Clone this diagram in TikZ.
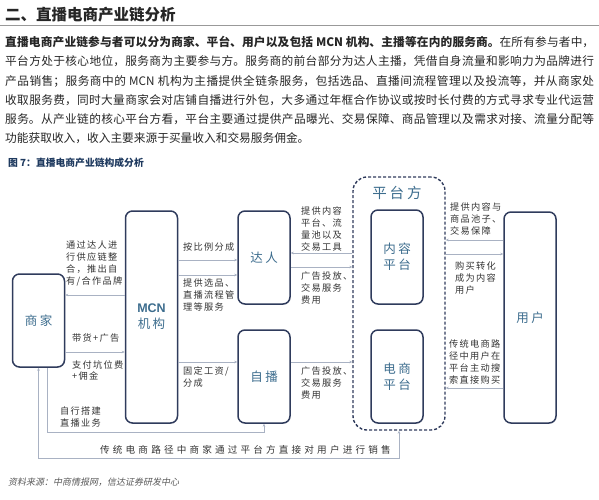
\documentclass[tikz,border=0pt]{standalone}
\usepackage{fontspec}
\setmainfont{Noto Sans CJK SC}
\newfontfamily\lblfont[LetterSpace=14]{Noto Sans CJK SC}
\newfontfamily\wideleftfont[LetterSpace=33]{Noto Sans CJK SC}
\newfontfamily\boxfont[LetterSpace=20]{Noto Sans CJK SC}
\newfontfamily\srcfont[FakeSlant=0.2]{Noto Sans CJK SC}
\newfontfamily\mcnfont{Liberation Sans}
\usetikzlibrary{arrows.meta, positioning, shadows}
\XeTeXlinebreaklocale "zh"
\XeTeXlinebreakskip=0pt plus 1pt
\definecolor{boxc}{HTML}{2F3B5C}
\definecolor{intext}{HTML}{3D6D8E}
\definecolor{linec}{HTML}{A9B2C3}
\definecolor{lblc}{HTML}{333333}
\definecolor{capc}{HTML}{1F3A5F}

\begin{document}
\begin{tikzpicture}[
  x=1pt, y=-1pt,
  box/.style={draw=boxc, line width=1.5pt, rounded corners=7pt, fill=white,
              inner sep=0pt, minimum width=52pt, text=intext, align=center,
              font=\boxfont\fontsize{12.5}{16}\selectfont,
              drop shadow={opacity=0.18, shadow xshift=0.6pt, shadow yshift=-0.8pt}},
  lbl/.style={anchor=north west, inner sep=0pt, align=left, text=lblc,
              font=\lblfont\fontsize{9.2}{11.7}\selectfont},
  arr/.style={draw=linec, line width=0.6pt, -{Stealth[length=3pt, width=2.6pt]}}
]
\useasboundingbox (0,0) rectangle (599,500);

% heading and text
\node[anchor=west, inner sep=0pt, font=\bfseries\fontsize{15.5}{18}\selectfont, text=black!85] (title) at (5,15) {二、直播电商产业链分析};
\draw[black!40, line width=0.6pt] (0,25) -- (599,25);
\node[anchor=north west, inner sep=0pt, text width=589pt, align=justify, text=black!85,
      font=\fontsize{11.7}{19.3}\selectfont] (para) at (5,36) {\noindent
  \textbf{直播电商产业链参与者可以分为商家、平台、用户以及包括 MCN 机构、主播等在内的服务商。}在所有参与者中，\linebreak
  平台方处于核心地位，服务商为主要参与方。服务商的前台部分为达人主播，凭借自身流量和影响力为品牌进行\linebreak
  产品销售；服务商中的 MCN 机构为主播提供全链条服务，包括选品、直播间流程管理以及投流等，并从商家处\linebreak
  收取服务费，同时大量商家会对店铺自播进行外包，大多通过年框合作协议或按时长付费的方式寻求专业代运营\linebreak
  服务。从产业链的核心平台方看，平台主要通过提供产品曝光、交易保障、商品管理以及需求对接、流量分配等\linebreak
  功能获取收入，收入主要来源于买量收入和交易服务佣金。};
\node[anchor=west, inner sep=0pt, font=\bfseries\fontsize{9.8}{12}\selectfont, text=capc] (cap) at (8,163) {图 7：直播电商产业链构成分析};

% boxes
\node[box, minimum height=93pt] (sj) at (38.5,320.5) {商家};
\node[box, minimum height=212pt] (mcn) at (151.5,317) {{\mcnfont\bfseries MCN}\\机构};
\node[box, minimum height=93pt] (dr) at (264,257.5) {达人};
\node[box, minimum height=93pt] (zb) at (264,376.5) {自播};
\node[draw=boxc, line width=1.4pt, dash pattern=on 3pt off 2pt, rounded corners=14pt,
      minimum width=92pt, minimum height=253pt] (pt) at (399,303.5) {};
\node[text=intext, font=\boxfont\fontsize{14.5}{16}\selectfont] (ptl) at (397,193) {平台方};
\node[box, minimum height=94pt] (nr) at (397,257) {内容\\平台};
\node[box, minimum height=93pt] (ds) at (397,376.5) {电商\\平台};
\node[box, minimum height=211pt] (yh) at (530,317.5) {用户};

% connectors
\draw[arr] (mcn.west |- 0,295) -- (sj.east |- 0,295);
\draw[arr] (sj.east |- 0,352) -- (mcn.west |- 0,352);
\draw[arr] ([xshift=8.5pt]sj.south) |- (zb.south |- 0,432) -- (zb.south);
\draw[arr, {Stealth[length=3pt, width=2.6pt]}-{Stealth[length=3pt, width=2.6pt]}] (sj.south) |- (pt.south |- 0,458) -- (pt.south);
\draw[arr] (mcn.east |- 0,260) -- (dr.west |- 0,260);
\draw[arr] (mcn.east |- 0,275) -- (dr.west |- 0,275);
\draw[arr] (mcn.east |- 0,362) -- (zb.west |- 0,362);
\draw[arr] (pt.west |- 0,253) -- (dr.east |- 0,253);
\draw[arr] (dr.east |- 0,267) -- (pt.west |- 0,267);
\draw[arr] (zb.east |- 0,362) -- (pt.west |- 0,362);
\draw[arr] (yh.west |- 0,240) -- (pt.east |- 0,240);
\draw[arr] (pt.east |- 0,254) -- (yh.west |- 0,254);
\draw[arr] (yh.west |- 0,388) -- (pt.east |- 0,388);

% labels
\node[lbl] (lsupply) at (66,241) {通过达人进\\行供应链整\\合，推出自\\有/合作品牌};
\node[lbl] (lsell) at (72,334) {带货+广告};
\node[lbl] (lfee) at (72,360) {支付坑位费\\+佣金};
\node[lbl] (lself) at (60,407) {自行搭建\\直播业务};
\node[lbl] (lshare) at (183,243) {按比例分成};
\node[lbl] (lservice) at (183,279) {提供选品、\\直播流程管\\理等服务};
\node[lbl] (lwage) at (183,367) {固定工资/\\分成};
\node[lbl] (ltool) at (301,207) {提供内容\\平台、流\\量池以及\\交易工具};
\node[lbl] (lad) at (301,272) {广告投放、\\交易服务\\费用};
\node[lbl] (lad2) at (301,367) {广告投放、\\交易服务\\费用};
\node[lbl] (lpool) at (450,203) {提供内容与\\商品池子、\\交易保障};
\node[lbl] (lbuy) at (455,262) {购买转化\\成为内容\\用户};
\node[lbl] (lsearch) at (449,340) {传统电商路\\径中用户在\\平台主动搜\\索直接购买};
\node[lbl, anchor=west, font=\wideleftfont\fontsize{9.6}{11.7}\selectfont] (ltrad) at (100,450) {传统电商路径中商家通过平台方直接对用户进行销售};

% source
\node[anchor=west, inner sep=0pt, font=\srcfont\fontsize{9}{11}\selectfont, text=black!65] (src) at (8,482) {资料来源：中商情报网，信达证券研发中心};
\end{tikzpicture}
\end{document}
